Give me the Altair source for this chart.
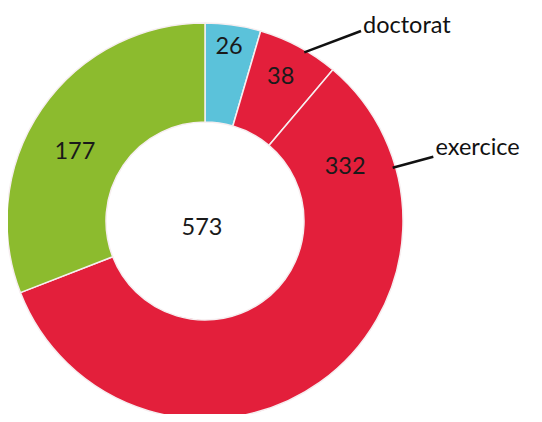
import altair as alt
import pandas as pd

# ---- data ----
categories = ["s1", "doctorat", "exercice", "s4"]
values = [26, 38, 332, 177]
order_idx = [0, 1, 2, 3]
slice_colors = ["#5BC2DA", "#E31F3B", "#E31F3B", "#8CBB2E"]
total_label = "573"
callouts = ["doctorat", "exercice"]

df = pd.DataFrame({"cat": categories, "value": values, "idx": order_idx})

CX, CY = 197, 213
R_IN, R_OUT = 99, 198
FONT = "Lato"
FS = 23.5

arc = alt.Chart(df).mark_arc(
    innerRadius=R_IN, outerRadius=R_OUT, stroke="#f6eef0", strokeWidth=1.5
).encode(
    theta=alt.Theta("value:Q", stack=True),
    color=alt.Color("cat:N", scale=alt.Scale(domain=categories, range=slice_colors), legend=None),
    order=alt.Order("idx:Q"),
    x=alt.value(CX), y=alt.value(CY),
)

base = alt.Chart(df).transform_window(
    v1="sum(value)", sort=[alt.SortField("idx")]
).transform_calculate(
    v0="datum.v1 - datum.value", mid="datum.v1 - datum.value/2"
)

def label(cat, radius, dx=0, dy=0):
    return base.transform_filter(alt.datum.cat == cat).mark_text(
        radius=radius, dx=dx, dy=dy, font=FONT, fontSize=FS, color="#1a1a1a",
        align="center", baseline="middle"
    ).encode(
        theta=alt.Theta("mid:Q"),
        text=alt.Text("value:Q"),
        x=alt.value(CX), y=alt.value(CY),
    )

labels = [
    label("s1", 176, -1, 0),
    label("doctorat", 162, -1, -1),
    label("exercice", 150, 53, -176),
    label("s4", 148, -8, 15),
]

center = alt.Chart(pd.DataFrame({"t": [total_label]})).mark_text(
    font=FONT, fontSize=FS, color="#1a1a1a", align="center", baseline="middle", dx=-3, dy=7
).encode(text="t:N", x=alt.value(CX), y=alt.value(CY))

lead_df = pd.DataFrame({"name": callouts})
lead1 = alt.Chart(lead_df).transform_filter(alt.datum.name == "doctorat").mark_rule(
    color="#111111", strokeWidth=2.5
).encode(x=alt.value(296.3), y=alt.value(44.3), x2=alt.value(353), y2=alt.value(23))
lead2 = alt.Chart(lead_df).transform_filter(alt.datum.name == "exercice").mark_rule(
    color="#111111", strokeWidth=2.5
).encode(x=alt.value(384.7), y=alt.value(159.7), x2=alt.value(425.3), y2=alt.value(148.7))

txt1 = alt.Chart(lead_df).transform_filter(alt.datum.name == "doctorat").mark_text(
    font=FONT, fontSize=FS, color="#111111", align="left", baseline="alphabetic"
).encode(text="name:N", x=alt.value(355), y=alt.value(25))
txt2 = alt.Chart(lead_df).transform_filter(alt.datum.name == "exercice").mark_text(
    font=FONT, fontSize=FS, color="#111111", align="left", baseline="alphabetic"
).encode(text="name:N", x=alt.value(427.5), y=alt.value(147))

chart = alt.layer(arc, *labels, center, lead1, lead2, txt1, txt2).properties(
    width=526, height=406, padding=0, autosize=alt.AutoSizeParams(type="none")
).configure_view(stroke=None)

chart.save("out.html", embed_options={"renderer": "svg", "actions": False})
